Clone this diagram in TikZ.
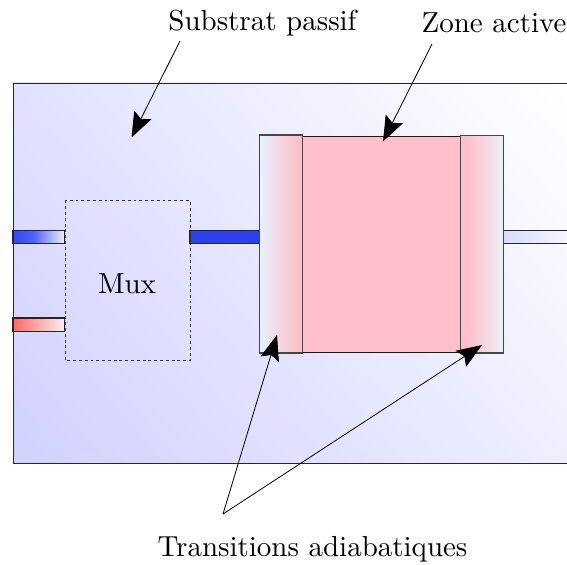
\documentclass[tikz,border=0pt]{standalone}
\usetikzlibrary{arrows.meta}
\definecolor{pinkz}{RGB}{255,192,203}
\definecolor{subst}{RGB}{210,210,255}
\definecolor{edge}{RGB}{70,70,70}
\definecolor{blueA}{RGB}{50,70,245}
\definecolor{blueB}{RGB}{45,65,240}
\definecolor{redA}{RGB}{255,105,105}
\definecolor{paleA}{RGB}{232,240,252}
\definecolor{paleB}{RGB}{236,238,246}
\definecolor{paleC}{RGB}{240,240,255}
\definecolor{paleD}{RGB}{250,240,240}
\definecolor{portR}{RGB}{218,218,255}
\pgfdeclareverticalshading{substshade}{100bp}{color(0bp)=(subst); color(17bp)=(subst); color(83bp)=(white); color(100bp)=(white)}
\pgfdeclarehorizontalshading{blueshade}{100bp}{color(0bp)=(blueA); color(25bp)=(blueA); color(45bp)=(blueA!85!white); color(75bp)=(paleC); color(100bp)=(paleC)}
\pgfdeclarehorizontalshading{redshade}{100bp}{color(0bp)=(redA); color(25bp)=(redA); color(75bp)=(paleD); color(100bp)=(paleD)}
\pgfdeclarehorizontalshading{portshade}{100bp}{color(0bp)=(portR); color(25bp)=(portR); color(75bp)=(white); color(100bp)=(white)}
\pgfdeclarehorizontalshading{leftshade}{100bp}{color(0bp)=(paleA); color(27bp)=(paleA); color(70bp)=(pinkz); color(100bp)=(pinkz)}
\pgfdeclarehorizontalshading{rightshade}{100bp}{color(0bp)=(pinkz); color(33bp)=(pinkz); color(73bp)=(paleB); color(100bp)=(paleB)}
\tikzset{
  x=0.345pt,y=-0.345pt,
  lbl/.style={inner sep=0pt,text=black},
  port/.style={draw=black!85,line width=0.35pt},
  trans/.style={draw=edge,line width=0.35pt},
  pointer/.style={draw=black,line width=0.28pt,-{Stealth[length=8.7pt,width=6.6pt,inset=1.5pt]}},
}
\begin{document}
\begin{tikzpicture}
\useasboundingbox (0,0) rectangle (567,564);
\clip (0,0) rectangle (567,564);
% substrate
\shade[shading=substshade,shading angle=-50] (13,83) rectangle (590,463);
\draw[black!85,line width=0.33pt] (13,83) rectangle (590,463);
% ports
\shade[shading=blueshade] (13,230.5) rectangle (64.5,243.5);
\draw[port] (13,230.5) rectangle (64.5,243.5);
\shade[shading=redshade] (13,318) rectangle (64.5,331.5);
\draw[port] (13,318) rectangle (64.5,331.5);
\fill[blueB] (190,230.5) rectangle (259,243.5);
\draw[port] (190,230.5) rectangle (259,243.5);
\shade[shading=portshade] (503,230.5) rectangle (590,243.5);
\draw[port] (503,230.5) -- (590,230.5) (503,243.5) -- (590,243.5);
% mux
\draw[black!80,line width=0.33pt,dash pattern=on 1pt off 1pt] (65,200.5) rectangle (190,360.5);
\node[lbl] (muxlabel) at (127,284) {Mux};
% active
\fill[pinkz] (302,136) rectangle (460,352);
\draw[black!90,line width=0.33pt] (302,136) rectangle (460,352);
\shade[shading=leftshade] (259,135) rectangle (302,353);
\draw[trans] (259,135) rectangle (302,353);
\shade[shading=rightshade] (460,135.5) rectangle (503,353);
\draw[trans] (460,135.5) rectangle (503,353);
% labels
\node[lbl] (sub) at (262.5,23.4) {Substrat passif};
\node[lbl] (zone) at (494,23.2) {Zone active};
\node[lbl] (trs) at (312.5,549.5) {Transitions adiabatiques};
% pointers
\coordinate (a1) at (180,41); \coordinate (a2) at (131.5,137.5);
\coordinate (b1) at (432,44); \coordinate (b2) at (383,141.5);
\coordinate (c0) at (223,514); \coordinate (c1) at (277,335); \coordinate (c2) at (482,345);
\draw[pointer] (a1) -- (a2);
\draw[pointer] (b1) -- (b2);
\draw[pointer] (c0) -- (c1);
\draw[pointer] (c0) -- (c2);
\end{tikzpicture}
\end{document}
